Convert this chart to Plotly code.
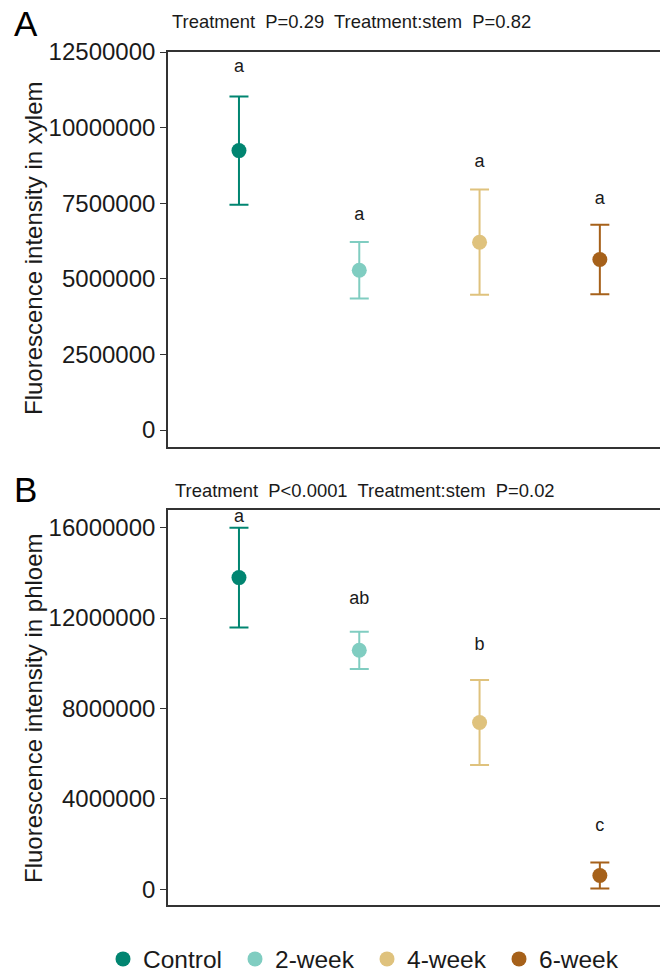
import plotly.graph_objects as go

# ---------------- data ----------------
categories = ["Control", "2-week", "4-week", "6-week"]
colors = ["#018571", "#80cdc1", "#dfc27d", "#a6611a"]

xylem_mean = [9.24e6, 5.285e6, 6.21e6, 5.64e6]
xylem_err = [1.79e6, 0.935e6, 1.74e6, 1.15e6]
xylem_letters = ["a", "a", "a", "a"]
xylem_letter_y = [11.99e6, 7.09e6, 8.84e6, 7.62e6]

phloem_mean = [13.79e6, 10.575e6, 7.38e6, 0.615e6]
phloem_err = [2.21e6, 0.825e6, 1.88e6, 0.575e6]
phloem_letters = ["a", "ab", "b", "c"]
phloem_letter_y = [16.43e6, 12.8e6, 10.78e6, 2.77e6]

xylem_ticks = [0, 2500000, 5000000, 7500000, 10000000, 12500000]
phloem_ticks = [0, 4000000, 8000000, 12000000, 16000000]

SP = "\u00a0 "
stats_A = "Treatment" + SP + "P=0.29" + SP + "Treatment:stem" + SP + "P=0.82"
stats_B = "Treatment" + SP + "P<0.0001" + SP + "Treatment:stem" + SP + "P=0.02"
ytitle_A = "Fluorescence intensity in xylem"
ytitle_B = "Fluorescence intensity in phloem"

# ---------------- figure ----------------
W, H = 660, 972
FONT = "Liberation Sans, Arial, sans-serif"
AXC = "#333333"
TXT = "#1a1a1a"

fig = go.Figure()
xpos = list(range(1, len(categories) + 1))

for i, cat in enumerate(categories):
    fig.add_trace(go.Scatter(
        x=[xpos[i]], y=[xylem_mean[i]], mode="markers", name=cat,
        legendgroup=cat, showlegend=True,
        marker=dict(size=15, color=colors[i]),
        error_y=dict(type="data", array=[xylem_err[i]], color=colors[i],
                     thickness=2, width=9.5),
        xaxis="x", yaxis="y"))
    fig.add_trace(go.Scatter(
        x=[xpos[i]], y=[phloem_mean[i]], mode="markers", name=cat,
        legendgroup=cat, showlegend=False,
        marker=dict(size=15, color=colors[i]),
        error_y=dict(type="data", array=[phloem_err[i]], color=colors[i],
                     thickness=2, width=9.5),
        xaxis="x2", yaxis="y2"))

fig.add_trace(go.Scatter(x=xpos, y=xylem_letter_y, text=xylem_letters, mode="text",
                         textfont=dict(size=18, color=TXT, family=FONT),
                         showlegend=False, xaxis="x", yaxis="y"))
fig.add_trace(go.Scatter(x=xpos, y=phloem_letter_y, text=phloem_letters, mode="text",
                         textfont=dict(size=18, color=TXT, family=FONT),
                         showlegend=False, xaxis="x2", yaxis="y2"))

def px_x(p):
    return p / W

def px_y(p):
    return 1 - p / H

xdom = [px_x(168), 1.0]
xrange = [0.41, 4.5]

common_x = dict(domain=xdom, range=xrange, showgrid=False, zeroline=False,
                showticklabels=False, ticks="", showline=True, linecolor=AXC,
                linewidth=1.6, mirror=True, fixedrange=True)
common_y = dict(showgrid=False, zeroline=False, showline=True, linecolor=AXC,
                linewidth=1.6, ticks="outside", ticklen=6, tickwidth=1.4,
                tickcolor=AXC, tickfont=dict(size=24, color=TXT, family=FONT),
                automargin=False)

fig.update_layout(
    width=W, height=H,
    margin=dict(l=0, r=0, t=0, b=0, autoexpand=False),
    paper_bgcolor="white", plot_bgcolor="white",
    font=dict(family=FONT, color=TXT),
    xaxis=dict(**common_x, anchor="y"),
    yaxis=dict(**common_y, domain=[px_y(447), px_y(52)], anchor="x",
               range=[-0.56e6, 12.5e6], tickvals=xylem_ticks,
               ticktext=[str(v) for v in xylem_ticks]),
    xaxis2=dict(**common_x, anchor="y2"),
    yaxis2=dict(**common_y, domain=[px_y(905), px_y(510)], anchor="x2",
                range=[-0.69e6, 16.78e6], tickvals=phloem_ticks,
                ticktext=[str(v) for v in phloem_ticks]),
    showlegend=True,
    legend=dict(orientation="h", x=px_x(103), xanchor="left", y=px_y(959),
                yanchor="middle", font=dict(size=24.5, color=TXT, family=FONT),
                entrywidth=87, entrywidthmode="pixels",
                bgcolor="rgba(0,0,0,0)", itemsizing="trace"),
)

annots = [
    dict(text="A", x=px_x(12), y=px_y(23), xanchor="left", yanchor="middle",
         font=dict(size=35, color="black", family=FONT)),
    dict(text="B", x=px_x(12), y=px_y(489), xanchor="left", yanchor="middle",
         font=dict(size=35, color="black", family=FONT)),
    dict(text=stats_A, x=px_x(170), y=px_y(22), xanchor="left", yanchor="middle",
         font=dict(size=18.4, color=TXT, family=FONT)),
    dict(text=stats_B, x=px_x(173), y=px_y(491), xanchor="left", yanchor="middle",
         font=dict(size=18.4, color=TXT, family=FONT)),
    dict(text=ytitle_A, x=px_x(33), y=px_y(249), xanchor="center", yanchor="middle",
         textangle=-90, font=dict(size=24, color=TXT, family=FONT)),
    dict(text=ytitle_B, x=px_x(33), y=px_y(708), xanchor="center", yanchor="middle",
         textangle=-90, font=dict(size=24, color=TXT, family=FONT)),
]
for a in annots:
    a.update(xref="paper", yref="paper", showarrow=False)
    fig.add_annotation(**a)

fig.write_html("out.html")
